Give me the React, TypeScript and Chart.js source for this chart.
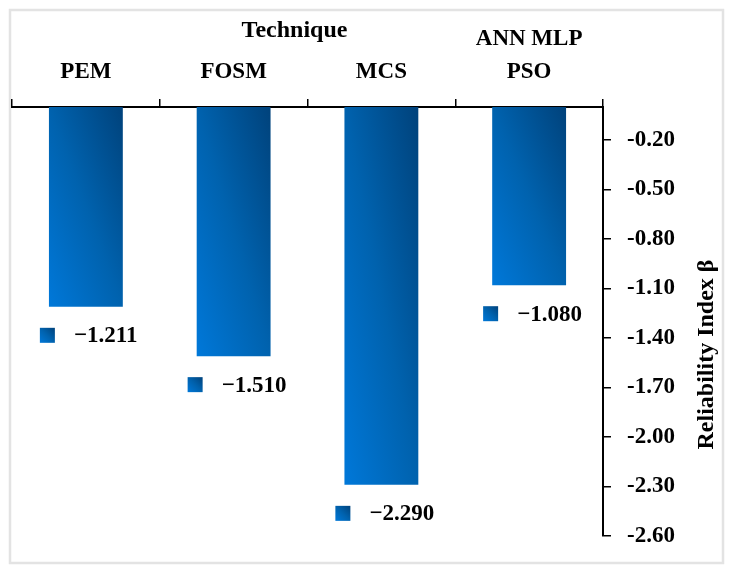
import React, { useEffect, useRef } from "react";
import { Chart, registerables } from "chart.js";

Chart.register(...registerables);

// ---- data ----
const categories: (string | string[])[] = ["PEM", "FOSM", "MCS", ["ANN MLP", "PSO"]];
const reliabilityIndex: number[] = [-1.211, -1.51, -2.29, -1.08];
const valueLabels: string[] = ["\u22121.211", "\u22121.510", "\u22122.290", "\u22121.080"];
const yTickValues: number[] = [-2.6, -2.3, -2.0, -1.7, -1.4, -1.1, -0.8, -0.5, -0.2];
const yMin = -2.6;
const yMax = 0;
const xTitle = "Technique";
const yTitle = "Reliability Index \u03b2";

const FONT = '"Liberation Serif", "Times New Roman", serif';

function diagGradient(ctx: CanvasRenderingContext2D, left: number, top: number, w: number, h: number) {
  if (![left, top, w, h].every((v) => Number.isFinite(v)) || w <= 0) return "#0062ae";
  const hh = Math.max(h, 1);
  const k = (2 * w * hh) / (hh * hh + w * w);
  const g = ctx.createLinearGradient(left, top + hh, left + k * hh, top + hh - k * w);
  g.addColorStop(0, "#0078d9");
  g.addColorStop(0.5, "#0062ae");
  g.addColorStop(1, "#00427b");
  return g;
}

const decorPlugin = {
  id: "decor",
  beforeDraw(chart: any) {
    const ctx = chart.ctx as CanvasRenderingContext2D;
    ctx.save();
    ctx.fillStyle = "#ffffff";
    ctx.fillRect(0, 0, chart.width, chart.height);
    ctx.strokeStyle = "#e3e3e3";
    ctx.lineWidth = 2.5;
    ctx.strokeRect(10, 10, chart.width - 20, chart.height - 20);
    ctx.restore();
  },
  afterDraw(chart: any) {
    const ctx = chart.ctx as CanvasRenderingContext2D;
    const area = chart.chartArea;
    ctx.save();
    ctx.fillStyle = "#000";
    // x title
    ctx.font = `bold 24px ${FONT}`;
    ctx.textAlign = "center";
    ctx.textBaseline = "middle";
    ctx.fillText(xTitle, (area.left + area.right) / 2 - 13, 31);
    // y title (reads bottom to top)
    ctx.save();
    ctx.translate(area.right + 104, (area.top + area.bottom) / 2 + 33);
    ctx.rotate(-Math.PI / 2);
    ctx.fillText(yTitle, 0, 0);
    ctx.restore();
    // value labels with legend-key markers
    const meta = chart.getDatasetMeta(0);
    ctx.font = `bold 23px ${FONT}`;
    ctx.textAlign = "left";
    meta.data.forEach((el: any, i: number) => {
      const mx = el.x - 46;
      const my = el.y + 21;
      ctx.fillStyle = diagGradient(ctx, mx, my, 15, 15);
      ctx.fillRect(mx, my, 15, 15);
      ctx.fillStyle = "#000";
      ctx.fillText(valueLabels[i], el.x - 12, my + 8.5);
    });
    ctx.restore();
  },
};

export default function App() {
  const canvasRef = useRef<HTMLCanvasElement | null>(null);

  useEffect(() => {
    if (!canvasRef.current) return;
    const chart = new Chart(canvasRef.current, {
      type: "bar",
      data: {
        labels: categories as any,
        datasets: [
          {
            data: reliabilityIndex,
            categoryPercentage: 1,
            barPercentage: 0.5,
            borderWidth: 0,
            backgroundColor: (c: any) => {
              const chart = c.chart;
              const xs = chart.scales?.x;
              const ys = chart.scales?.y;
              if (!xs || !ys || c.type !== "data" || typeof c.raw !== "number") return "#0062ae";
              const cx = xs.getPixelForValue(c.dataIndex);
              const w = (xs.width / categories.length) * 0.5;
              const y0 = ys.getPixelForValue(0);
              const y1 = ys.getPixelForValue(c.raw);
              return diagGradient(chart.ctx, cx - w / 2, Math.min(y0, y1), w, Math.abs(y1 - y0));
            },
          },
        ],
      },
      options: {
        responsive: false,
        animation: false,
        layout: { padding: { left: 12, right: 0, top: 0, bottom: 37 } },
        plugins: {
          legend: { display: false },
          tooltip: { enabled: false },
          title: { display: false },
        },
        scales: {
          x: {
            position: "top",
            offset: true,
            grid: {
              display: true,
              drawOnChartArea: false,
              drawTicks: true,
              tickLength: 8,
              color: "#000",
              lineWidth: 1.5,
              offset: true,
            },
            border: { display: true, color: "#000", width: 2 },
            ticks: {
              color: "#000",
              padding: 11,
              maxRotation: 0,
              autoSkip: false,
              font: { family: FONT, size: 23, weight: "bold", lineHeight: 1.413 },
            },
            afterFit: (scale: any) => {
              scale.height = 107;
            },
          },
          y: {
            position: "right",
            min: yMin,
            max: yMax,
            grid: {
              display: true,
              drawOnChartArea: false,
              drawTicks: true,
              tickLength: 8,
              color: "#000",
              lineWidth: 1.5,
            },
            border: { display: true, color: "#000", width: 2 },
            afterBuildTicks: (scale: any) => {
              scale.ticks = yTickValues.map((v) => ({ value: v }));
            },
            ticks: {
              color: "#000",
              padding: 16,
              font: { family: FONT, size: 23, weight: "bold" },
              callback: (v: any) => Number(v).toFixed(2),
            },
            afterFit: (scale: any) => {
              scale.width = 130;
            },
          },
        },
      },
      plugins: [decorPlugin],
    });
    return () => chart.destroy();
  }, []);

  return (
    <div style={{ position: "absolute", left: 0, top: 0, width: 733, height: 573 }}>
      <canvas ref={canvasRef} width={733} height={573} style={{ display: "block" }} />
    </div>
  );
}
